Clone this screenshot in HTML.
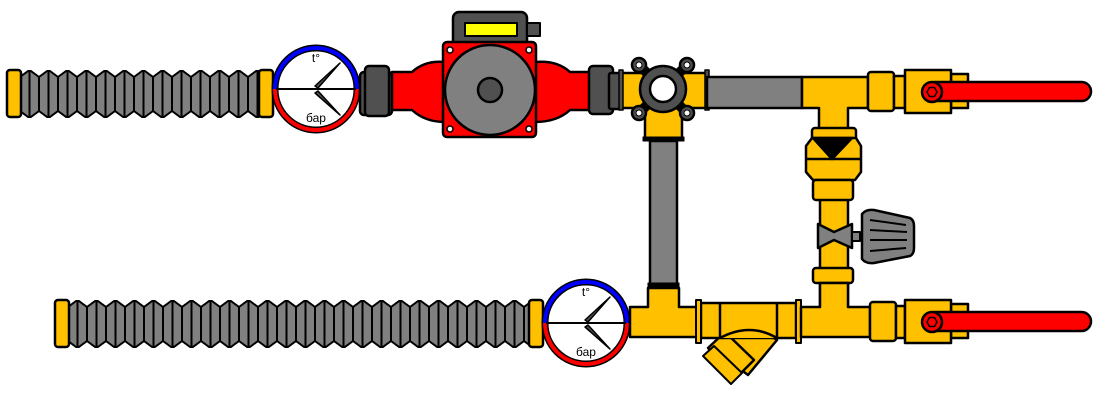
<!DOCTYPE html>
<html><head><meta charset="utf-8"><style>
html,body{margin:0;padding:0;background:#fff;}
svg{display:block;}
text{font-family:"Liberation Sans",sans-serif;}
</style></head><body>
<svg width="1110" height="403" viewBox="0 0 1110 403" xmlns="http://www.w3.org/2000/svg">
<defs>
<pattern id="bt" patternUnits="userSpaceOnUse" x="20" y="70" width="19" height="48">
<polygon points="0,7 9.5,0 19,7 19,41 9.5,48 0,41" fill="#808080" stroke="#000" stroke-width="2"/>
<line x1="9.5" y1="0" x2="9.5" y2="48" stroke="#000" stroke-width="2"/>
<line x1="0" y1="7" x2="0" y2="41" stroke="#000" stroke-width="2"/>
</pattern>
<pattern id="bb" patternUnits="userSpaceOnUse" x="68" y="300" width="19" height="48">
<polygon points="0,7 9.5,0 19,7 19,41 9.5,48 0,41" fill="#808080" stroke="#000" stroke-width="2"/>
<line x1="9.5" y1="0" x2="9.5" y2="48" stroke="#000" stroke-width="2"/>
<line x1="0" y1="7" x2="0" y2="41" stroke="#000" stroke-width="2"/>
</pattern>
</defs>
<g stroke="#000" stroke-width="2.5" stroke-linejoin="round">
<!-- TOP HOSE -->
<rect x="20" y="70" width="240" height="48" fill="url(#bt)" stroke="none"/>
<rect x="7" y="70" width="14" height="47" rx="3" fill="#FFC000"/>
<rect x="259" y="70" width="14" height="47" rx="3" fill="#FFC000"/>
<!-- top gauge -->
<circle cx="316" cy="89" r="41" fill="#fff" stroke="#000" stroke-width="7"/>
<path d="M275,89 A41,41 0 0 1 357,89" fill="none" stroke="#0000ff" stroke-width="4"/>
<path d="M275,89 A41,41 0 0 0 357,89" fill="none" stroke="#ff0000" stroke-width="4"/>
<line x1="276" y1="89" x2="356" y2="89" stroke-width="2"/>
<polygon points="315,86 340,63 318,88" fill="#505050" stroke-width="1.5"/>
<polygon points="315,93 340,115 318,91" fill="#505050" stroke-width="1.5"/>
<!-- left nut -->
<rect x="360" y="72" width="32" height="43" rx="4" fill="#505050"/>
<rect x="365" y="66" width="24" height="50" rx="4" fill="#505050"/>
<!-- pump red body -->
<path d="M392,72 L412,72 Q425,60 445,62 L445,122 Q425,122 412,110 L392,110 Z" fill="#ff0000"/>
<path d="M590,72 L570,72 Q557,60 535,62 L535,122 Q557,122 570,110 L590,110 Z" fill="#ff0000"/>
<rect x="453" y="12" width="74" height="36" rx="6" fill="#505050"/>
<rect x="465" y="23" width="52" height="13" fill="#ffff00" stroke-width="2"/>
<rect x="527" y="23" width="13" height="13" fill="#505050" stroke-width="2"/>
<rect x="443" y="42" width="93" height="95" rx="4" fill="#ff0000"/>
<circle cx="450" cy="50" r="3" fill="#fff" stroke-width="1.5"/>
<circle cx="529" cy="50" r="3" fill="#fff" stroke-width="1.5"/>
<circle cx="450" cy="129" r="3" fill="#fff" stroke-width="1.5"/>
<circle cx="529" cy="129" r="3" fill="#fff" stroke-width="1.5"/>
<circle cx="490" cy="90" r="45" fill="#808080"/>
<circle cx="490" cy="90" r="12" fill="#505050"/>
<!-- right nut -->
<rect x="589" y="66" width="24" height="48" rx="4" fill="#505050"/>
<rect x="609" y="73" width="12" height="36" rx="2" fill="#505050"/>
<!-- mixing valve -->
<rect x="645" y="105" width="37" height="34" fill="#FFC000"/>
<rect x="643" y="137" width="41" height="4" fill="#000" stroke-width="1"/>
<rect x="650" y="141" width="27" height="143" fill="#808080"/>
<rect x="621" y="73" width="86" height="35" fill="#FFC000"/>
<rect x="619" y="70" width="4" height="40" fill="#505050" stroke-width="1.5"/>
<rect x="705" y="70" width="4" height="40" fill="#505050" stroke-width="1.5"/>
<g fill="#505050">
<line x1="639" y1="65" x2="687" y2="113" stroke-width="10"/>
<line x1="687" y1="65" x2="639" y2="113" stroke-width="10"/>
<circle cx="639" cy="65" r="7"/><circle cx="687" cy="65" r="7"/>
<circle cx="639" cy="113" r="7"/><circle cx="687" cy="113" r="7"/>
</g>
<circle cx="639" cy="65" r="3" fill="#fff" stroke-width="1"/><circle cx="687" cy="65" r="3" fill="#fff" stroke-width="1"/>
<circle cx="639" cy="113" r="3" fill="#fff" stroke-width="1"/><circle cx="687" cy="113" r="3" fill="#fff" stroke-width="1"/>
<circle cx="663" cy="89" r="23" fill="#505050"/>
<circle cx="663" cy="89" r="13" fill="#fff"/>
<!-- top gray pipe + tee -->
<rect x="707" y="77" width="95" height="31" fill="#808080"/>
<path d="M802,77 L868,77 L868,108 L848,108 L848,132 L819,132 L819,108 L802,108 Z" fill="#FFC000"/>
<!-- top ball valve -->
<rect x="868" y="72" width="26" height="39" rx="3" fill="#FFC000"/>
<rect x="894" y="76" width="11" height="32" fill="#FFC000"/>
<rect x="951" y="74" width="17" height="34" fill="#FFC000"/>
<rect x="905" y="70" width="46" height="43" fill="#FFC000"/>
<rect x="925" y="82" width="166" height="19" rx="9.5" fill="#ff0000"/>
<circle cx="932" cy="92" r="10" fill="#ff0000"/>
<polygon points="927,92 929.5,87.5 934.5,87.5 937,92 934.5,96.5 929.5,96.5" fill="#ff0000" stroke-width="1.5"/>
<!-- vertical bypass -->
<rect x="820" y="178" width="28" height="152" fill="#FFC000"/>
<rect x="812" y="128" width="44" height="12" rx="3" fill="#FFC000"/>
<path d="M812,138 L856,138 L861,146 L861,172 L855,180 L813,180 L806,172 L806,146 Z" fill="#FFC000"/>
<line x1="806" y1="159" x2="861" y2="159"/>
<polygon points="813,138 852,138 832,159" fill="#000"/>
<rect x="813" y="180" width="40" height="20" rx="3" fill="#FFC000"/>
<polygon points="818,224 834,232 852,224 852,248 834,240 818,248" fill="#808080"/>
<rect x="852" y="232" width="8" height="9" fill="#808080" stroke-width="2"/>
<path d="M862,214 Q866,209 874,210 L910,218 Q914,220 914,226 L914,248 Q914,254 910,256 L874,263 Q866,264 862,259 Z" fill="#808080"/>
<g stroke-width="2"><line x1="870" y1="220" x2="906" y2="225"/><line x1="870" y1="230" x2="907" y2="232"/><line x1="870" y1="240" x2="907" y2="240"/><line x1="870" y1="251" x2="906" y2="248"/></g>
<rect x="813" y="268" width="40" height="15" rx="3" fill="#FFC000"/>
<!-- BOTTOM HOSE -->
<rect x="68" y="300" width="463" height="48" fill="url(#bb)" stroke="none"/>
<rect x="55" y="300" width="14" height="47" rx="3" fill="#FFC000"/>
<rect x="529" y="300" width="14" height="47" rx="3" fill="#FFC000"/>
<!-- bottom gauge -->
<circle cx="586" cy="323" r="41" fill="#fff" stroke="#000" stroke-width="7"/>
<path d="M545,323 A41,41 0 0 1 627,323" fill="none" stroke="#0000ff" stroke-width="4"/>
<path d="M545,323 A41,41 0 0 0 627,323" fill="none" stroke="#ff0000" stroke-width="4"/>
<line x1="546" y1="323" x2="626" y2="323" stroke-width="2"/>
<polygon points="585,320 610,297 588,322" fill="#505050" stroke-width="1.5"/>
<polygon points="585,327 610,349 588,325" fill="#505050" stroke-width="1.5"/>
<!-- bottom tee -->
<rect x="648" y="283" width="31" height="5" fill="#000" stroke-width="1"/>
<path d="M630,307 L648,307 L648,288 L679,288 L679,307 L697,307 L697,337 L630,337 Z" fill="#FFC000"/>
<!-- filter -->
<path d="M718,338 Q750,322 777,340 L748,375 L728,360 Z" fill="#FFC000"/>
<polygon points="708,348 725,332 754,360 737,377" fill="#FFC000"/>
<polygon points="703,356 714,346 742,373 731,384" fill="#FFC000" stroke-width="2"/>
<rect x="701" y="303" width="95" height="35" fill="#FFC000"/>
<line x1="720" y1="303" x2="720" y2="338"/><line x1="777" y1="303" x2="777" y2="338"/>
<path d="M720,338 Q750,322 777,338" fill="#FFC000"/>
<rect x="696" y="300" width="5" height="43" fill="#FFC000" stroke-width="2"/>
<rect x="796" y="300" width="5" height="43" fill="#FFC000" stroke-width="2"/>
<path d="M801,307 L820,307 L820,283 L848,283 L848,307 L870,307 L870,337 L801,337 Z" fill="#FFC000"/>
<!-- bottom ball valve -->
<rect x="870" y="302" width="26" height="39" rx="3" fill="#FFC000"/>
<rect x="896" y="306" width="9" height="32" fill="#FFC000"/>
<rect x="951" y="304" width="17" height="34" fill="#FFC000"/>
<rect x="905" y="300" width="46" height="43" fill="#FFC000"/>
<rect x="925" y="312" width="166" height="19" rx="9.5" fill="#ff0000"/>
<circle cx="932" cy="322" r="10" fill="#ff0000"/>
<polygon points="927,322 929.5,317.5 934.5,317.5 937,322 934.5,326.5 929.5,326.5" fill="#ff0000" stroke-width="1.5"/>
</g>
<text x="316" y="62" font-size="12" text-anchor="middle">t°</text>
<text x="316" y="122" font-size="12" text-anchor="middle">бар</text>
<text x="586" y="296" font-size="12" text-anchor="middle">t°</text>
<text x="586" y="356" font-size="12" text-anchor="middle">бар</text>
</svg>
</body></html>
